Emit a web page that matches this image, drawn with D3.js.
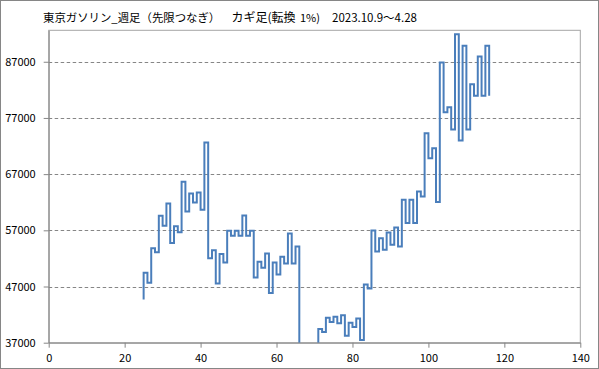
<html>
  <head>
    <meta charset="utf-8">
    <title>東京ガソリン カギ足</title>
    <script src="https://cdn.jsdelivr.net/npm/d3@7"></script>
    <style>
     body { margin: 0; background: #fff; }
     text { font-family: "Noto Sans CJK JP", "Noto Sans", sans-serif; fill: #000; }
     .grid line { stroke: #868686; stroke-width: 1px; stroke-dasharray: 3.5,2.5; }
     .axis path, .axis line { stroke: #868686; }
     .axis text { font-size: 11px; }
     .kagi { fill: none; stroke: #4a7ebb; stroke-width: 2px; stroke-linejoin: miter; }
    </style>
  </head>
  <body>
    <svg id="chart" width="599" height="369"></svg>
    <script>
     // first visible column and its opening price
     var firstCol = 25;
     var openPrice = 44690;

     // level reached by each kagi column (col 25 .. 116), yen/kl
     var levels = [
       49430, 47650, 53800, 53090, 59600, 57830, 61790, 54750, 57710, 56640,
       65640, 60370, 63570, 61970, 63750, 60670, 72620, 52030, 53450, 47530,
       52800, 51270, 56920, 56030, 56920, 56030, 59650, 56030, 56920, 48600,
       51390, 50320, 52880, 45860, 51270, 49130, 52280, 51090, 56440, 51090,
       54120, 35000, 36200, 35300, 36400, 35600, 39440, 38900, 41460, 40690,
       41640, 40460, 41880, 38250, 40570, 39800, 41290, 37480, 47350, 46630,
       56980, 53230, 55610, 53530, 56620, 54420, 57510, 54120, 62450, 58290,
       62450, 58290, 63930, 63040, 74280, 69840, 71615, 62030, 86880, 78010,
       78890, 74930, 91910, 72980, 89840, 74930, 82980, 80960, 87950, 80960,
       89840, 80960
     ];

     var xTicks = [0, 20, 40, 60, 80, 100, 120, 140];
     var yTicks = [37000, 47000, 57000, 67000, 77000, 87000];

     var titleMain = "東京ガソリン_週足（先限つなぎ）";
     var titleKagi = "カギ足(転換";
     var titlePct = "1%)";
     var titleDate = "2023.10.9～4.28";

     var svg = d3.select("#chart");

     var pLeft = 48.7, pRight = 580.3, pTop = 30.3, pBottom = 342.7;

     var x = d3.scaleLinear().domain([0, 140]).range([pLeft, pRight]);
     var y = d3.scaleLinear().domain([37000, 92600]).range([pBottom, pTop]);

     // outer frame
     svg.append("rect")
        .attr("x", 0.5).attr("y", 0.5)
        .attr("width", 598).attr("height", 368)
        .attr("fill", "#fff")
        .attr("stroke", "#868686");

     // plot area frame
     svg.append("rect")
        .attr("x", pLeft).attr("y", pTop)
        .attr("width", pRight - pLeft).attr("height", pBottom - pTop)
        .attr("fill", "none")
        .attr("stroke", "#a6a6a6");

     svg.append("g")
        .attr("class", "grid")
        .selectAll("line")
        .data(yTicks.slice(1))
        .join("line")
        .attr("x1", pLeft).attr("x2", pRight)
        .attr("y1", function(d) { return Math.round(y(d)) + 0.5; })
        .attr("y2", function(d) { return Math.round(y(d)) + 0.5; });

     svg.append("defs").append("clipPath")
        .attr("id", "plot")
        .append("rect")
        .attr("x", pLeft).attr("y", pTop - 4)
        .attr("width", pRight - pLeft).attr("height", pBottom - pTop + 4);

     // kagi path: vertical at each column, horizontal to the next one
     var pts = [[firstCol, openPrice]];
     levels.forEach(function(v, i) {
       var c = firstCol + i;
       if (i > 0) pts.push([c, levels[i - 1]]);
       pts.push([c, v]);
     });

     var line = d3.line()
                  .x(function(d) { return x(d[0]); })
                  .y(function(d) { return y(d[1]); });

     svg.append("path")
        .datum(pts)
        .attr("class", "kagi")
        .attr("clip-path", "url(#plot)")
        .attr("d", line);

     svg.append("g")
        .attr("class", "axis")
        .attr("transform", "translate(0," + pBottom + ")")
        .call(d3.axisBottom(x).tickValues(xTicks).tickSize(5).tickPadding(4).tickSizeOuter(0))
        .call(function(g) { g.selectAll("text").attr("dy", "0.95em"); });

     svg.append("g")
        .attr("class", "axis")
        .attr("transform", "translate(" + pLeft + ",0)")
        .call(d3.axisLeft(y).tickValues(yTicks).tickSize(5).tickPadding(8).tickSizeOuter(0)
                .tickFormat(d3.format("d")));

     svg.selectAll(".axis text").style("fill", "#000");

     // title pieces
     var title = [
       [titleMain, 43, 11.4],
       [titleKagi, 231.5, 12],
       [titlePct, 300, 11],
       [titleDate, 332, 11.5]
     ];
     svg.selectAll(".title")
        .data(title)
        .join("text")
        .attr("class", "title")
        .attr("x", function(d) { return d[1]; })
        .attr("y", 22)
        .style("font-size", function(d) { return d[2] + "px"; })
        .text(function(d) { return d[0]; });
    </script>
  </body>
</html>
